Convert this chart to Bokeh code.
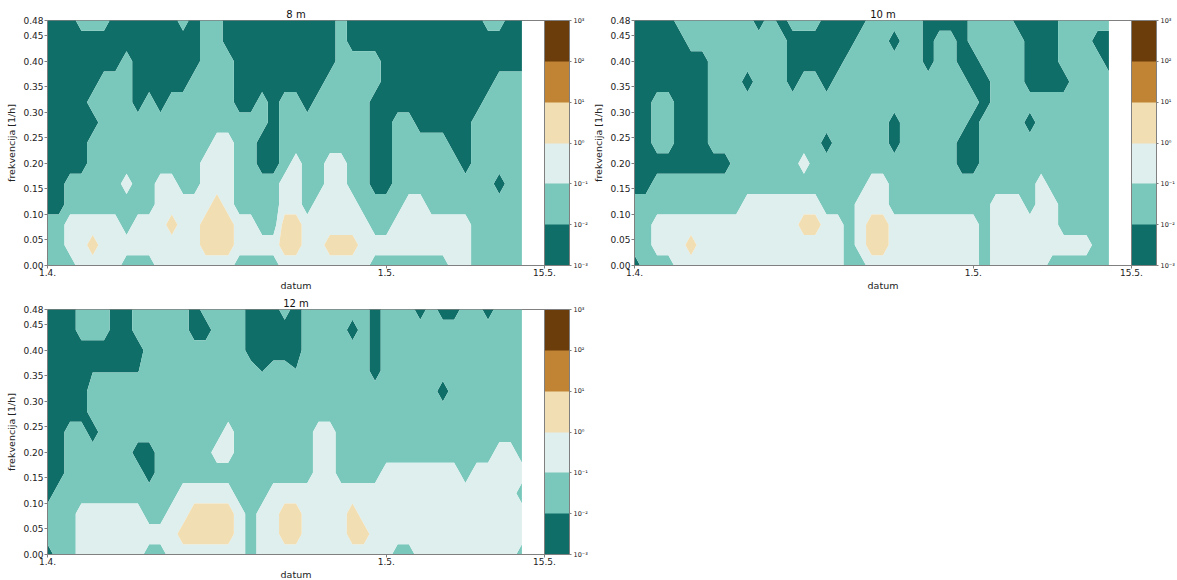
import numpy as np
from bokeh.plotting import figure
from bokeh.layouts import column, row
from bokeh.models import FixedTicker, Range1d, PrintfTickFormatter, ColorBar, LinearColorMapper
from bokeh.embed import file_html
from bokeh.resources import INLINE

# ---------------- data ----------------
DAYS = list(range(43))                       # daily spectra, days after 1 April
FREQ = [0.00, 0.04, 0.08, 0.12, 0.16, 0.20, 0.24, 0.28, 0.32, 0.36, 0.40, 0.44, 0.48]
X_TICKS = [0, 30, 44]
X_TICK_LABELS = ["1.4.", "1.5.", "15.5."]
Y_TICKS = [0.00, 0.05, 0.10, 0.15, 0.20, 0.25, 0.30, 0.35, 0.40, 0.45, 0.48]
LEVELS = [-3, -2, -1, 0, 1, 2, 3]            # log10 of spectral density
LEVEL_LABELS = ["10⁻³", "10⁻²", "10⁻¹", "10⁰", "10¹", "10²", "10³"]
COLORS = ["#0f6f68", "#7ac8bc", "#dfefed", "#f2deb3", "#c08434", "#6a3d0a"]
TITLES = ["8 m", "10 m", "12 m"]

# band code -> log10 value (0: 1e-3..1e-2, 1: 1e-2..1e-1, 2: 1e-1..1, 3: 1..10)
BAND_VALUE = {"0": -2.5, "a": -2.05, "b": -1.95, "1": -1.5, "2": -0.5, "3": 0.5}

# rows from top (0.48) to bottom (0.00); "cxn" = code c repeated n times
SPEC_8M = [
    "0x3 1x3 0x6 1 0 1x2 0x10 1 0x12 1x2 0x2",
    "0x14 1x2 0x10 1 0x16",
    "0x7 1 0x6 1x3 0x9 1x4 0x13",
    "0x5 1x3 0x5 1x4 0x8 1x5 0x10 1x3",
    "0x4 1x4 0 1 0 1x6 0x2 1 0 1x2 0 1x5 0x10 1x4",
    "0x5 1x15 0 1x8 0x2 1x2 0x5 1x5",
    "0x4 1x11 2x2 1x2 0x2 1x8 0x2 1x5 0x2 1x5",
    "0x4 1x10 2x3 1x2 0x2 1 2 1x2 2x2 1x2 0x2 1x6 0 1x5",
    "0x2 1x5 2 1x2 2x2 1x2 2x3 1x4 2x2 1x2 2x2 1x2 0x2 1x9 0 1x2",
    "0x2 1x8 2x5 3 2 1x4 2x2 1 2x4 1x4 2x2 1x9",
    "1x2 2x5 1 2x3 3 2x2 3x3 2x2 1x2 3x2 2x6 1x2 2x7 1x5",
    "1x2 2x2 3 2x9 3x3 2x4 3x2 2x2 3x3 2x10 1x5",
    "1x3 2x4 1x3 2x7 1x4 2x8 1x7 2x2 1x5",
]
SPEC_10M = [
    "0x4 1x7 0 1 0 1x3 0x4 1x5 0x4 1x4 0x4 1x5",
    "0x5 1x9 0x6 1x3 0 1x2 0 1x2 0 1x5 0x3 1x3 0x2",
    "0x7 1x7 0x5 1x7 0 1x2 0x2 1x4 0x3 1x4 0",
    "0x7 1x3 0 1x3 0 1x2 0 1x12 0x2 1x3 0x4 1x4",
    "0x2 1x2 0x3 1x24 0 1x11",
    "0x2 1x2 0x3 1x16 0 1x6 0 1x4 0 1x7",
    "0x2 1x2 0x3 1x10 0 1x5 0 1x5 0x2 1x12",
    "0x9 1x6 2 1x13 0x2 1x12",
    "0x2 1x19 2x2 1x13 2 1x6",
    "1x10 2x7 1x3 2x3 1x9 2x3 1 2x2 1x5",
    "1x2 2x13 3x2 2x2 1 2 3x2 2x8 1 2x6 1x5",
    "1x2 2x3 3 2x13 1 2 3x2 2x8 1 2x9 1x2",
    "0 1x3 2x15 1x2 2x10 1 2x5 1x6",
]
SPEC_12M = [
    "0x3 1x3 0x2 1x5 0 1x4 0x3 1 0 1x6 0 1x3 0 1 0x2 1x2 0 1x3",
    "0x3 1x3 0x2 1x5 0x2 1x3 0x5 1x4 0 1 0 1x13",
    "0x9 1x9 0x5 1x6 0 1x13",
    "0x4 ax5 1x10 a 1x2 b 1x6 0 1x13",
    "0x4 1x31 0 1x7",
    "0x4 1x39",
    "0x2 1x2 0 1x11 2 1x7 2x2 1x17",
    "0x2 1x6 0x2 1x5 2x2 1x7 2x2 1x14 2x2 1",
    "0x2 1x7 0 1x14 2x2 1x4 2x7 1 2x5",
    "0 1x11 2x5 1x3 2x22 1",
    "1x3 2x6 1x2 2x2 3x4 2 1 2x2 3x2 2x4 3 2x15",
    "1x3 2x9 3x5 2 1 2x2 3x2 2x4 3x2 2x14",
    "0 1x2 2x6 1x2 2x7 1 2x12 1x2 2x9 1",
]

FONT = "DejaVu Sans"
FW, FH = 497, 245
GRAY = "#808080"


def decode(r):
    out = ""
    for tok in r.split():
        if "x" in tok:
            c, n = tok.split("x")
            out += c * int(n)
        else:
            out += tok
    n = len(DAYS)
    return (out + out[-1] * n)[:n]


def panel(title, spec, border_top, border_left):
    rows = [decode(r) for r in spec]
    z = np.array([[BAND_VALUE[c] for c in r] for r in reversed(rows)])
    p = figure(frame_width=FW, frame_height=FH,
               x_range=Range1d(0, 44), y_range=Range1d(0, 0.48),
               title=title, output_backend="svg", toolbar_location=None,
               min_border_left=border_left, min_border_right=42,
               min_border_top=border_top, min_border_bottom=22,
               background_fill_color="white", border_fill_color="white")
    p.contour(x=DAYS, y=FREQ, z=z, levels=LEVELS, fill_color=COLORS, line_color=None)

    p.title.text_font = FONT
    p.title.text_font_size = "10px"
    p.title.text_font_style = "normal"
    p.title.text_color = "#111111"
    p.title.align = "center"
    p.title.standoff = 2

    p.xaxis.ticker = FixedTicker(ticks=X_TICKS)
    p.xaxis.major_label_overrides = dict(zip(X_TICKS, X_TICK_LABELS))
    p.yaxis.ticker = FixedTicker(ticks=Y_TICKS)
    p.yaxis.formatter = PrintfTickFormatter(format="%.2f")
    p.xaxis.axis_label = "datum"
    p.yaxis.axis_label = "frekvencija [1/h]"
    for ax in (p.xaxis[0], p.yaxis[0]):
        ax.major_label_text_font = FONT
        ax.major_label_text_font_size = "9px"
        ax.major_label_text_color = "#222222"
        ax.axis_label_text_font = FONT
        ax.axis_label_text_font_size = "9.5px"
        ax.axis_label_text_font_style = "normal"
        ax.axis_label_text_color = "#222222"
        ax.major_tick_out = 3
        ax.major_tick_in = 0
        ax.minor_tick_line_color = None
        ax.axis_line_color = GRAY
        ax.major_tick_line_color = GRAY
        ax.major_label_standoff = 0
        ax.axis_label_standoff = 1
    p.yaxis[0].major_label_standoff = 1
    p.yaxis[0].axis_label_standoff = 3
    p.grid.visible = False
    p.outline_line_color = GRAY

    mapper = LinearColorMapper(palette=COLORS, low=LEVELS[0], high=LEVELS[-1])
    cb = ColorBar(color_mapper=mapper, ticker=FixedTicker(ticks=LEVELS),
                  major_label_overrides=dict(zip(LEVELS, LEVEL_LABELS)),
                  width=25, height=FH, padding=0, margin=0, label_standoff=2,
                  major_label_text_font=FONT, major_label_text_font_size="6.5px",
                  major_label_text_color="#222222",
                  major_tick_out=2, major_tick_in=0, major_tick_line_color=GRAY,
                  bar_line_color=GRAY, background_fill_color=None,
                  border_line_color=None)
    p.add_layout(cb, "right")
    return p


p1 = panel(TITLES[0], SPEC_8M, 20, 47)
p2 = panel(TITLES[1], SPEC_10M, 20, 43)
p3 = panel(TITLES[2], SPEC_12M, 16, 47)

layout = column(row(p1, p2), row(p3))
open("out.html", "w").write(file_html(layout, INLINE))
